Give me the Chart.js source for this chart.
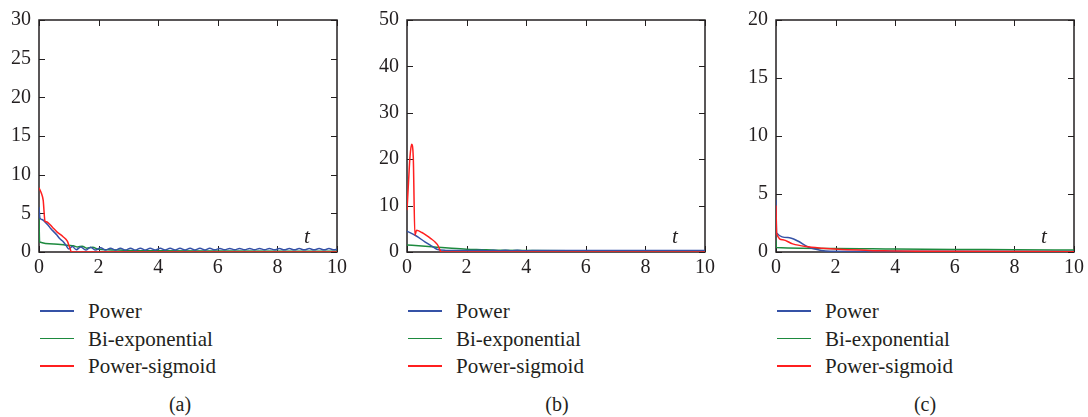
<!DOCTYPE html>
<html>
<head>
<meta charset="utf-8">
<script src="https://cdn.jsdelivr.net/npm/chart.js@4.4.1/dist/chart.umd.min.js"></script>
<style>
  html, body { margin: 0; padding: 0; background: #fff; overflow: hidden; }
  body { width: 1088px; height: 417px; position: relative; font-family: 'Liberation Serif', serif; color: #231f20; }
  .panel { position: absolute; top: 0; width: 351px; height: 417px; }
  .cw { position: absolute; left: 0; top: 0; width: 351px; height: 290px; }
  .leg-row { position: absolute; left: 0; height: 24px; line-height: 24px; font-size: 21px; white-space: nowrap; font-family: 'Liberation Serif', serif; }
  .leg-line { position: absolute; left: 40px; top: 11px; width: 34px; height: 1.5px; }
  .leg-text { position: absolute; left: 88px; top: 0; }
  .cap { position: absolute; top: 392px; font-size: 20px; line-height: 24px; transform: translateX(-50%); font-family: 'Liberation Serif', serif; }
</style>
</head>
<body>
<div class='panel' style='left:0px'><div class='cw'><canvas id='ca'></canvas></div><div id='la'></div><div class='cap' style='left:180px'>(a)</div></div>
<div class='panel' style='left:368px'><div class='cw'><canvas id='cb'></canvas></div><div id='lb'></div><div class='cap' style='left:189px'>(b)</div></div>
<div class='panel' style='left:737px'><div class='cw'><canvas id='cc'></canvas></div><div id='lc'></div><div class='cap' style='left:188px'>(c)</div></div>
<script>
// ── Data (t, value) ─────────────────────────────────────────────────────
const seriesNames = ['Power', 'Bi-exponential', 'Power-sigmoid'];
const xTicks = [0, 2, 4, 6, 8, 10];

// panel (a)
const powerA = [[0,5.8],[0.03,4.4],[0.1,4.2],[0.2,3.9],[0.3,3.5],[0.4,3.0],[0.5,2.6],[0.6,2.2],[0.7,1.7],[0.8,1.4],[0.9,0.9],[1.0,0.4],[1.12,0.7],[1.25,0.3],
  [1.4,0.65],[1.57,0.25],[1.73,0.6],[1.9,0.25],[2.07,0.55],[2.23,0.25],[2.4,0.5],[2.57,0.25],[2.73,0.5],[2.9,0.25],[3.07,0.5],[3.23,0.25],[3.4,0.5],
  [3.57,0.25],[3.73,0.48],[3.9,0.25],[4.07,0.48],[4.23,0.25],[4.4,0.48],[4.57,0.25],[4.73,0.48],[4.9,0.25],[5.07,0.48],[5.23,0.25],[5.4,0.48],[5.57,0.25],
  [5.73,0.48],[5.9,0.28],[6.07,0.46],[6.23,0.28],[6.4,0.46],[6.57,0.28],[6.73,0.46],[6.9,0.28],[7.07,0.46],[7.23,0.28],[7.4,0.46],[7.57,0.28],[7.73,0.46],
  [7.9,0.28],[8.07,0.44],[8.23,0.28],[8.4,0.44],[8.57,0.28],[8.73,0.44],[8.9,0.28],[9.07,0.44],[9.23,0.28],[9.4,0.44],[9.57,0.28],[9.73,0.44],[9.9,0.28],[10,0.35]];
const biexpA = [[0,4.5],[0.02,1.3],[0.5,1.05],[1.0,0.85],[1.15,0.8],[1.3,0.65],[1.45,0.75],[1.6,0.5],[1.8,0.6],[2.0,0.35],[2.3,0.3],[3,0.2],[4,0.15],[6,0.12],[10,0.1]];
const sigmoidA = [[0,8.3],[0.08,7.6],[0.14,6.7],[0.2,4.0],[0.24,3.9],[0.3,3.8],[0.45,3.2],[0.6,2.6],[0.8,2.0],[0.95,1.4],[1.02,0.7],[1.09,0],[10,0]];

// panel (b)
const powerB = [[0,4.5],[0.3,3.5],[0.6,2.2],[0.85,1.2],[1.0,0.6],[1.3,0.35],[2.0,0.3],[2.5,0.4],[2.7,0.25],[2.9,0.4],[3.1,0.25],[3.3,0.4],[3.5,0.25],[3.7,0.4],[3.9,0.25],[4.2,0.3],[10,0.3]];
const biexpB = [[0,1.5],[0.5,1.3],[1.0,1.05],[1.5,0.8],[2.0,0.6],[2.5,0.5],[3,0.4],[4,0.3],[6,0.25],[10,0.2]];
const sigmoidB = [[0,9],[0.05,15],[0.1,20.5],[0.155,23.2],[0.21,20.5],[0.265,3.6],[0.32,4.7],[0.5,4.2],[0.65,3.6],[0.8,2.9],[0.95,2.1],[1.04,1.4],[1.1,0.5],[1.15,0],[10,0]];

// panel (c)
const powerC = [[0,4.5],[0.02,1.65],[0.4,1.25],[0.73,0.95],[1.06,0.45],[1.3,0.25],[1.67,0.08],[2.5,0.05],[3.5,0.08],[5,0.06],[10,0.05]];
const biexpC = [[0,1.0],[0.01,0.38],[2,0.3],[4,0.25],[6,0.22],[8,0.2],[10,0.17]];
const sigmoidC = [[0,4.0],[0.02,1.6],[0.23,1.05],[0.56,0.7],[1.0,0.47],[1.56,0.33],[2.1,0.24],[3,0.15],[3.6,0.1],[5,0.06],[10,0.03]];

const colors = ['#3552a6', '#1d8a3e', '#ff1f1f'];
const ink = '#231f20';
const serif = "'Liberation Serif', serif";
const tickFont = { family: serif, size: 20 };

// ── Frame with inward ticks on all four sides + italic t label ──────────
const framePlugin = {
  id: 'frame',
  beforeDatasetsDraw(chart) {
    const { ctx, chartArea: a, scales: { x, y } } = chart;
    ctx.save();
    ctx.strokeStyle = ink;
    ctx.lineWidth = 1.5;
    ctx.strokeRect(a.left, a.top, a.right - a.left, a.bottom - a.top);
    ctx.lineWidth = 1;
    ctx.beginPath();
    x.ticks.forEach((t, i) => {
      const px = Math.round(x.getPixelForTick(i)) + 0.5;
      ctx.moveTo(px, a.bottom); ctx.lineTo(px, a.bottom - 6);
      ctx.moveTo(px, a.top); ctx.lineTo(px, a.top + 6);
    });
    y.ticks.forEach((t, i) => {
      const py = Math.round(y.getPixelForTick(i)) + 0.5;
      ctx.moveTo(a.left, py); ctx.lineTo(a.left + 6, py);
      ctx.moveTo(a.right, py); ctx.lineTo(a.right - 6, py);
    });
    ctx.stroke();
    ctx.fillStyle = ink;
    ctx.font = 'italic 21px ' + serif;
    ctx.textAlign = 'center';
    ctx.textBaseline = 'middle';
    ctx.fillText('t', a.right - 30, a.bottom - 15);
    ctx.restore();
  }
};

function toPoints(arr) { return arr.map(p => ({ x: p[0], y: p[1] })); }

function makePanel(canvasId, legendId, yMax, yStep, series) {
  const datasets = series.map((s, i) => ({
    label: seriesNames[i],
    data: toPoints(s),
    borderColor: colors[i],
    borderWidth: 1.5,
    pointRadius: 0,
    cubicInterpolationMode: 'monotone',
    fill: false,
    order: i === 2 ? 0 : i + 1
  }));
  const chart = new Chart(document.getElementById(canvasId), {
    type: 'line',
    data: { datasets },
    options: {
      responsive: true,
      maintainAspectRatio: false,
      animation: false,
      layout: { padding: { top: 19, right: 10, left: 0, bottom: 0 } },
      plugins: { legend: { display: false }, tooltip: { enabled: false } },
      scales: {
        x: {
          type: 'linear', min: 0, max: 10,
          afterBuildTicks: s => { s.ticks = xTicks.map(v => ({ value: v })); },
          afterFit: s => { s.height = 38; },
          grid: { display: false, drawTicks: false },
          border: { display: false },
          ticks: { color: ink, font: tickFont, padding: 4, maxRotation: 0 }
        },
        y: {
          min: 0, max: yMax,
          afterFit: s => { s.width = 39; },
          grid: { display: false, drawTicks: false },
          border: { display: false },
          ticks: { color: ink, font: tickFont, padding: 8, stepSize: yStep }
        }
      }
    },
    plugins: [framePlugin]
  });

  // legend as a vertical list under the plot
  const box = document.getElementById(legendId);
  chart.data.datasets.forEach((d, i) => {
    const row = document.createElement('div');
    row.className = 'leg-row';
    row.style.top = (299 + i * 27.5) + 'px';
    row.innerHTML = "<div class='leg-line' style='background:" + d.borderColor + "'></div><div class='leg-text'>" + d.label + '</div>';
    box.appendChild(row);
  });
  return chart;
}

makePanel('ca', 'la', 30, 5, [powerA, biexpA, sigmoidA]);
makePanel('cb', 'lb', 50, 10, [powerB, biexpB, sigmoidB]);
makePanel('cc', 'lc', 20, 5, [powerC, biexpC, sigmoidC]);
</script>
</body>
</html>
